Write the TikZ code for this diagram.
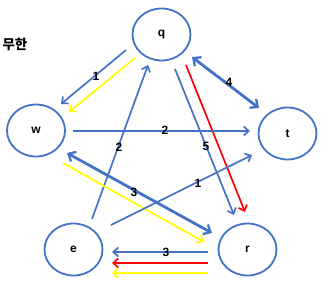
\documentclass[tikz,border=0pt]{standalone}
\usepackage{fontspec}
\setmainfont{Liberation Sans}
\newfontfamily\kofont{Noto Sans CJK KR}
\usetikzlibrary{arrows.meta,shapes.geometric}
\definecolor{eblue}{HTML}{4472C4}
\definecolor{eyellow}{HTML}{FFFF00}
\definecolor{ered}{HTML}{FF0000}
\begin{document}
\begin{tikzpicture}[x=1pt,y=-1pt,
  vert/.style={draw=eblue,line width=1.8pt,ellipse,minimum width=58pt,minimum height=52pt,inner sep=0pt,font=\fontsize{12}{14}\selectfont\bfseries},
  edge/.style={line width=1.7pt,-{Straight Barb[length=5pt,width=9pt,line width=1.7pt]}},
  thick edge/.style={line width=2.8pt,{Straight Barb[length=6pt,width=11pt,line width=2.3pt]}-{Straight Barb[length=6pt,width=11pt,line width=2.3pt]}},
  lbl/.style={font=\fontsize{12}{14}\selectfont\bfseries,inner sep=0pt}]
\useasboundingbox (0,0) rectangle (336,291);
\node[vert] (q) at (161.5,34.5) {q};
\node[vert] (w) at (36,130.5) {w};
\node[vert] (t) at (287.5,133.5) {t};
\node[vert] (e) at (73.5,249.5) {e};
\node[vert] (r) at (247.5,249.5) {r};
\node[font=\kofont\fontsize{13.5}{15}\selectfont\bfseries,inner sep=0pt] (title) at (15,44) {무한};
% endpoints
\coordinate (qw1) at (126,50);  \coordinate (wq1) at (61,104);
\coordinate (qw2) at (135,58);  \coordinate (wq2) at (69,112);
\coordinate (eq1) at (92,219);  \coordinate (qe1) at (148,65);
\coordinate (qr1) at (175,69);  \coordinate (rq1) at (234,215);
\coordinate (qr2) at (186,65);  \coordinate (rq2) at (245,212);
\coordinate (qt1) at (192,57);  \coordinate (tq1) at (259,108);
\coordinate (wt1) at (73,131);  \coordinate (tw1) at (250,131);
\coordinate (wr1) at (67,153);  \coordinate (rw1) at (212,233);
\coordinate (wr2) at (63,163);  \coordinate (rw2) at (204,242);
\coordinate (et1) at (111,225); \coordinate (te1) at (252,155);
\coordinate (re1) at (208,252); \coordinate (er1) at (112,252);
\coordinate (re2) at (208,263); \coordinate (er2) at (112,263);
\coordinate (re3) at (208,273); \coordinate (er3) at (112,273);
% connectors
\draw[edge,eblue] (qw1) -- (wq1);
\draw[edge,eyellow] (qw2) -- (wq2);
\draw[edge,eblue] (eq1) -- (qe1);
\draw[edge,eblue] (qr1) -- (rq1);
\draw[edge,ered] (qr2) -- (rq2);
\draw[thick edge,eblue] (qt1) -- (tq1);
\draw[edge,eblue] (wt1) -- (tw1);
\draw[thick edge,eblue] (wr1) -- (rw1);
\draw[edge,eyellow] (wr2) -- (rw2);
\draw[edge,eblue] (et1) -- (te1);
\draw[edge,eblue] (re1) -- (er1);
\draw[edge,ered] (re2) -- (er2);
\draw[edge,eyellow] (re3) -- (er3);
% labels
\node[lbl] (l1) at (96,76) {1};
\node[lbl] (l2) at (119,147) {2};
\node[lbl] (l5) at (206,146) {5};
\node[lbl] (l4) at (229,82) {4};
\node[lbl] (l2b) at (165,130) {2};
\node[lbl] (l3) at (134,192) {3};
\node[lbl] (l1b) at (198,183) {1};
\node[lbl] (l3b) at (166,252) {3};
\end{tikzpicture}
\end{document}
